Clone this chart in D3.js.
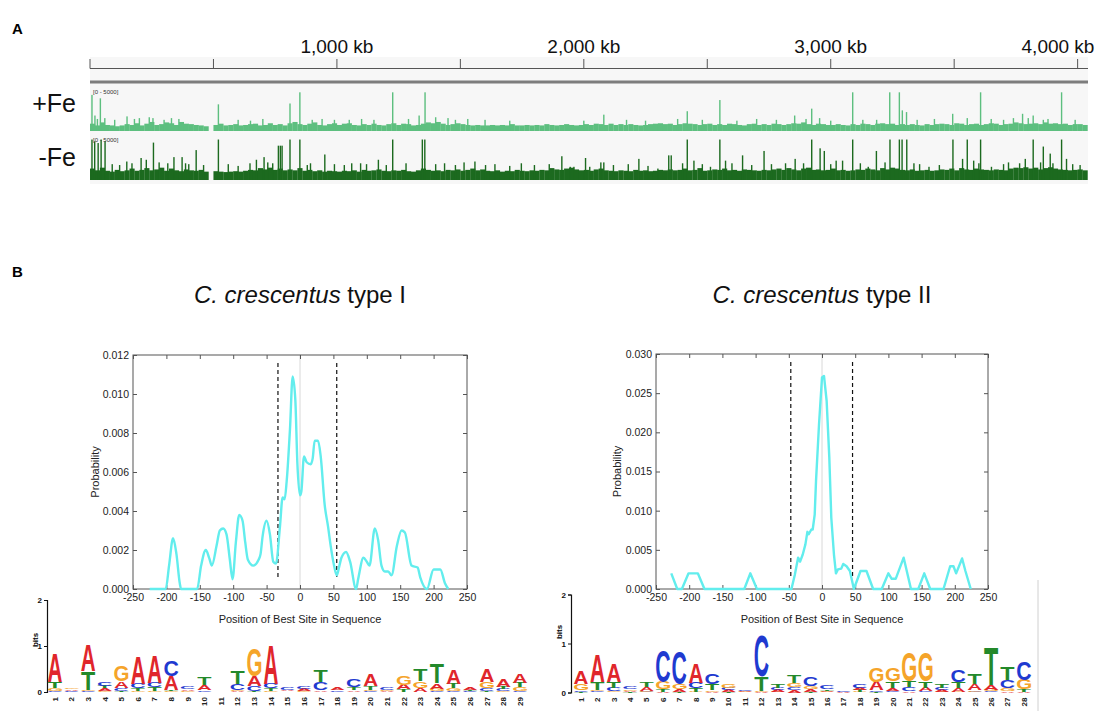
<!DOCTYPE html>
<html><head><meta charset="utf-8">
<script src="https://cdn.jsdelivr.net/npm/d3@7"></script>
<style>body{margin:0;background:#fff} svg{display:block;font-family:"Liberation Sans",Arial,sans-serif}</style>
</head><body><svg id="c" width="1104" height="711"></svg>
<script>
// ---------------- DATA ----------------
const genomeKb = 4042;
const binKb = 20;
const rulerTicks = [0,500,1000,1500,2000,2500,3000,3500,4000];
const rulerLabels = [1000,2000,3000,4000];
const trackNames = ["+Fe","-Fe"];
const trackRange = "[0 - 5000]";
const plusFeBins = [
850,650,1000,700,650,550,650,800,700,900,
650,850,1050,700,800,1000,900,700,1050,850,
800,700,650,550,null,700,850,650,700,800,
650,700,800,850,650,700,900,700,800,650,
900,1050,800,700,850,1000,700,650,800,900,
700,850,900,700,650,800,700,850,700,650,
800,900,700,850,800,650,700,850,1000,900,
1050,850,700,800,900,800,700,650,700,650,
650,700,650,700,650,800,650,650,700,650,
700,650,800,700,650,700,800,700,650,700,
800,700,850,800,700,850,700,800,700,800,
700,650,700,800,850,900,800,850,700,800,
900,850,800,700,800,850,700,800,700,850,
800,700,650,800,850,700,800,700,850,800,
700,800,900,850,1000,800,700,850,800,700,
700,800,700,650,800,700,850,800,700,850,
900,800,850,700,800,700,800,700,650,800,
700,800,850,800,700,900,850,700,800,850,
700,800,900,850,700,800,850,1000,900,800,
850,900,800,1000,850,900,800,850,700,800,
800,700];
const minusFeBins = [
1300,1100,1400,1050,950,1150,1000,1100,1300,1050,
1150,1350,1100,1200,1400,1050,1300,1100,1000,1200,
1100,1050,1150,950,null,1000,950,900,950,1000,
950,1050,1150,1100,1350,1200,1400,1150,1300,1100,
1200,1100,1350,1050,1150,1000,1100,950,1050,1000,
950,1050,1000,1100,950,1150,1050,1100,1200,1050,
1000,1100,1050,1150,1000,950,1100,1300,1150,1050,
1100,1000,1150,1100,1200,1050,1150,1300,1100,1200,
1050,1000,1100,950,1050,1000,1150,1050,1000,1100,
1050,1150,1100,1350,1200,1150,1300,1400,1200,1100,
1150,1050,1200,1300,1100,1050,1000,1100,1050,1000,
1150,1050,1100,1000,1050,1150,1100,1200,1100,1150,
1300,1100,1150,1350,1050,1100,1200,1150,1300,1100,
1150,1050,1200,1150,1100,1050,1150,1100,1200,1300,
1150,1350,1200,1100,1300,1400,1150,1200,1100,1150,
1300,1100,1150,1050,1100,1200,1150,1300,1200,1100,
1350,1200,1400,1300,1150,1100,1200,1050,1100,1150,
1050,1100,1200,1150,1300,1100,1350,1200,1150,1300,
1200,1150,1100,1200,1150,1100,1300,1400,1350,1450,
1300,1400,1200,1350,1450,1300,1200,1150,1100,1150,
1200,1100];
const plusFePeaks = [[8,4200],[20,1800],[30,1400],[42,3800],[60,1500],[100,1300],[150,1700],[180,1400],[200,1500],[240,1600],[255,1500],
[300,1300],[330,1500],[360,1400],[520,3100],[600,1300],[650,1200],[700,1400],[810,3200],[850,4500],[900,1300],[940,1400],[990,1300],
[1050,1300],[1100,1400],[1150,1300],[1226,4500],[1290,1400],[1333,1800],[1357,4500],[1400,1600],[1450,1500],[1480,1300],[1530,1400],
[1600,1300],[1700,1200],[2000,1200],[2081,1900],[2173,1300],[2250,1200],[2380,1400],[2419,2300],[2480,1300],[2551,3600],[2620,1200],
[2700,1400],[2780,1300],[2854,1800],[2900,1400],[2923,2600],[2955,1500],[3000,1200],[3089,4500],[3130,1300],
[3186,1300],[3239,4500],[3278,4500],[3290,2400],[3307,2200],[3350,1300],[3420,1400],[3494,2000],[3553,1500],[3607,4500],
[3650,1400],[3700,1300],[3740,1500],[3777,2000],[3800,1500],[3820,1800],[3861,1300],[3880,1400],[3935,4500],[3990,1300]];
const minusFePeaks = [[8,4600],[19,4400],[33,4200],[45,4600],[61,4400],[90,1800],[120,1700],[149,2100],[170,1900],[207,2500],[228,2300],
[257,4250],[280,2000],[315,1900],[340,2600],[373,2600],[387,1900],[400,1800],[430,3400],[460,1700],[520,4600],[560,1800],[600,1600],
[648,1900],[674,2300],[705,2600],[720,2000],[740,1900],[763,3900],[771,3900],[778,3900],[810,4600],[850,4600],[880,1700],[893,1900],
[951,2900],[990,1800],[1030,1700],[1060,1900],[1096,1900],[1120,1800],[1168,2300],[1200,1700],[1226,4600],[1280,1900],[1346,4600],
[1356,4600],[1400,1800],[1436,1900],[1480,1700],[1515,2000],[1559,2100],[1602,1700],[1640,1800],[1700,1600],[1747,1900],[1800,1700],
[1860,1800],[1911,2700],[1945,1500],[1960,1500],[2007,2500],[2024,1500],[2069,2000],[2081,2000],[2120,1700],[2180,1800],
[2223,2400],[2260,1600],[2300,1300],[2344,2800],[2354,2800],[2400,1900],[2419,4600],[2446,2200],[2480,1800],[2513,1500],[2551,4600],
[2574,2200],[2600,1900],[2643,2800],[2680,1700],[2730,3300],[2760,1800],[2817,1900],[2856,2400],[2890,1900],[2923,4600],[2957,3600],
[2974,3300],[3000,1800],[3022,2200],[3048,2200],[3089,4600],[3120,1900],[3152,1500],[3185,3300],[3220,2000],[3240,4600],[3278,4600],
[3289,4600],[3308,4600],[3337,1900],[3360,1800],[3398,1500],[3440,1700],[3495,4600],[3534,2400],[3553,4600],[3579,2200],[3600,1900],
[3607,4600],[3651,1500],[3700,1800],[3720,2000],[3765,1900],[3788,2400],[3820,4600],[3850,2000],[3861,3800],[3889,3000],[3900,1900],
[3935,4600],[3955,2400],[3980,1800],[4010,1700]];

const chartTitles = ["type I","type II"];
const speciesName = "C. crescentus";
const posTicks = [-250,-200,-150,-100,-50,0,50,100,150,200,250];
const type1YTicks = [0,0.002,0.004,0.006,0.008,0.010,0.012];
const type2YTicks = [0,0.005,0.010,0.015,0.020,0.025,0.030];
const type1Pos = [-225,-201,-196,-190,-185,-180,-178,-154,-148,-141,-136,-132,-125,-120,-115,-110,-105,-101,-96,-91,-86,-82,-78,-70,-62,-59,-56,-50,-45,-40,-36,-30,-26,-23,-20,-15,-11,-7,-4,0,2,6,10,16,19,22,27,31,37,42,46,51,55,59,62,69,75,84,87,95,100,104,112,117,122,127,132,137,145,152,157,167,176,180,190,200,210,217,222];
const type1Prob = [0,0,0.0012,0.0026,0.0018,0.0003,0,0,0.0012,0.002,0.0016,0.0012,0.0022,0.003,0.0031,0.0028,0.0015,0.0005,0.0024,0.0038,0.0035,0.0024,0.0015,0.0012,0.0015,0.0018,0.0027,0.0035,0.0028,0.0014,0.0013,0.0032,0.0047,0.0046,0.0055,0.0082,0.0109,0.0097,0.0065,0.0048,0.005,0.0068,0.0065,0.0064,0.0067,0.0076,0.0076,0.0068,0.0043,0.0032,0.0022,0.0012,0.0007,0.0012,0.0016,0.0019,0.0014,0,0.0005,0.0016,0.0014,0.0012,0.0031,0.0025,0.0012,0.0009,0.0009,0.0007,0.0022,0.003,0.0029,0.0012,0.0011,0.0006,0,0.001,0.001,0.0003,0];
const type2Pos = [-227,-218,-211,-201,-187,-177,-117,-108,-98,-46,-41,-36,-33,-29,-25,-22,-20,-16,-14,-11,-9,-4.5,0,3,7,11,14,18,21,24,29,32,37,42,48,58,67,77,90,100,105,111,123,134,145,154,163,183,193,198,202,211,216,224];
const type2Prob = [0.002,0,0,0.002,0.002,0,0,0.002,0,0,0.0018,0.004,0.0035,0.0044,0.0057,0.0073,0.007,0.0076,0.0076,0.0095,0.0138,0.021,0.027,0.0272,0.024,0.0168,0.0091,0.0044,0.002,0.0025,0.0026,0.0032,0.0029,0.0023,0,0.0023,0.0023,0,0,0.002,0.0013,0.0013,0.004,0,0,0.002,0,0,0.0029,0.0029,0.002,0.0039,0.0023,0];
const type1Window = [-33,55];
const type2Window = [-47,46];

const logoLetters = ["A","C","G","T"];
const logo1A = [.62,.03,.55,.05,.15,.6,.58,.3,.03,.12,.01,.02,.22,.84,.02,.04,.03,.05,.03,.26,.02,.1,.08,.12,.3,.05,.28,.16,.2];
const logo1C = [.02,.02,.02,.07,.05,.1,.1,.34,.05,.03,.01,.13,.1,.1,.04,.06,.17,.03,.16,.02,.04,.01,.01,.02,.03,.02,.06,.04,.02];
const logo1G = [.06,.03,.03,.03,.33,.03,.03,.02,.02,.01,0,.03,.6,.02,.01,.02,.01,.01,.01,.03,.02,.2,.15,.05,.05,.01,.13,.02,.08];
const logo1T = [.13,.01,.4,.06,.03,.05,.07,.02,.01,.17,.01,.27,.02,.06,.01,.01,.25,0,.06,.08,.01,.05,.25,.43,.1,.02,.02,.05,.1];
const logo2A = [.26,.55,.38,.03,.07,.01,.05,.4,.02,.04,.02,.02,.04,.05,.05,.03,.02,.05,.17,.06,.03,.07,.04,.07,.13,.1,.03,.01];
const logo2C = [.03,.03,.07,.04,.01,.63,.66,.12,.21,.04,.02,.82,.05,.06,.18,.08,.03,.08,.03,.03,.08,.03,.04,.24,.02,.02,.17,.37];
const logo2G = [.12,.03,.02,.03,.03,.15,.1,.01,.03,.07,.01,.02,.01,.08,.05,.01,0,.01,.3,.27,.6,.58,.01,.02,.03,.04,.05,.2];
const logo2T = [.02,.15,.12,.01,.1,.05,.02,.07,.12,.01,0,.28,.08,.16,.02,.03,0,.04,.02,.14,.12,.12,.08,.12,.2,.77,.25,.05];
const bitsTicks = [0,1,2];

// ---------------- DRAW ----------------
const svg = d3.select("#c");
const letterColor = {A:"#e0262b", C:"#1f3ad0", G:"#f5a42a", T:"#23892a"};

svg.append("text").attr("x",12).attr("y",34).attr("font-size",15).attr("font-weight","bold").text("A");
svg.append("text").attr("x",12).attr("y",277).attr("font-size",15).attr("font-weight","bold").text("B");

// ---- Panel A : genome tracks ----
const xKb = d3.scaleLinear().domain([0, genomeKb]).range([90, 1088]);
svg.append("rect").attr("x",90).attr("y",57).attr("width",998).attr("height",127).attr("fill","#f7f7f7");
svg.append("line").attr("x1",90).attr("x2",1088).attr("y1",68.5).attr("y2",68.5).attr("stroke","#555").attr("stroke-width",1.2);
svg.selectAll(".rt").data(rulerTicks).enter().append("line")
  .attr("x1",d=>xKb(d)).attr("x2",d=>xKb(d)).attr("y1",59).attr("y2",68.5).attr("stroke","#555").attr("stroke-width",1);
svg.selectAll(".rl").data(rulerLabels).enter().append("text")
  .attr("x",d=>Math.min(xKb(d), 1098 - 40)).attr("y",53).attr("text-anchor","middle")
  .attr("font-size",19).attr("fill","#111").text(d=>d3.format(",")(d)+" kb");
svg.append("rect").attr("x",90).attr("y",80.5).attr("width",998).attr("height",3).attr("fill","#7d7d7d");

const tracks = [
  {name:trackNames[0], bins:plusFeBins, peaks:plusFePeaks, y0:131, y1:88, color:"#5dbf7f", labelY:112},
  {name:trackNames[1], bins:minusFeBins, peaks:minusFePeaks, y0:180, y1:136, color:"#1c6a1f", labelY:166}
];
tracks.forEach(t => {
  const y = d3.scaleLinear().domain([0,5000]).range([t.y0, t.y1]).clamp(true);
  const g = svg.append("g");
  g.selectAll("rect.b").data(t.bins.map((v,i)=>({v, kb:i*binKb})).filter(d=>d.v!=null)).enter().append("rect")
    .attr("x",d=>xKb(d.kb)).attr("y",d=>y(d.v))
    .attr("height",d=>t.y0-y(d.v)).attr("fill",t.color)
    .attr("width",d=>Math.max(0, Math.min(xKb(d.kb+binKb), xKb(genomeKb)) - xKb(d.kb) + 0.2));
  g.selectAll("rect.p").data(t.peaks).enter().append("rect")
    .attr("x",d=>xKb(d[0])-0.7).attr("width",1.4).attr("y",d=>y(d[1])).attr("height",d=>t.y0-y(d[1])).attr("fill",t.color);
  svg.append("text").attr("x",93).attr("y",t.y1+6).attr("font-size",6).attr("fill","#333").text(trackRange);
  svg.append("text").attr("x",76).attr("y",t.labelY).attr("text-anchor","end").attr("font-size",25).attr("fill","#111").text(t.name);
});

// ---- Panel B : probability charts ----
function probChart(cfg){
  const x = d3.scaleLinear().domain([-250,250]).range(cfg.xr);
  const y = d3.scaleLinear().domain([0,cfg.ymax]).range(cfg.yr);
  const g = svg.append("g");
  const t = svg.append("text").attr("x",(cfg.xr[0]+cfg.xr[1])/2).attr("y",303).attr("text-anchor","middle").attr("font-size",24).attr("fill","#111");
  t.append("tspan").attr("font-style","italic").text(speciesName);
  t.append("tspan").text(" " + cfg.title);
  g.append("line").attr("x1",x(0)).attr("x2",x(0)).attr("y1",cfg.yr[1]).attr("y2",cfg.yr[0]).attr("stroke","#d8d8d8").attr("stroke-width",1);
  const fmtX = d => String(d);
  const ax = (a, tr) => { const gg = g.append("g").attr("transform",tr).call(a); gg.select(".domain").remove();
     gg.selectAll("line").attr("stroke","#555"); gg.selectAll("text").attr("font-size",10.5).attr("fill","#222").attr("font-family","Liberation Sans, Arial, sans-serif"); return gg; };
  ax(d3.axisBottom(x).tickValues(posTicks).tickSize(-4).tickPadding(5).tickFormat(fmtX), `translate(0,${cfg.yr[0]})`);
  ax(d3.axisTop(x).tickValues(posTicks).tickSize(-4).tickFormat(""), `translate(0,${cfg.yr[1]})`);
  ax(d3.axisLeft(y).tickValues(cfg.yTicks).tickSize(-4).tickPadding(4).tickFormat(d3.format(".3f")), `translate(${cfg.xr[0]},0)`);
  ax(d3.axisRight(y).tickValues(cfg.yTicks).tickSize(-4).tickFormat(""), `translate(${cfg.xr[1]},0)`);
  g.append("rect").attr("x",cfg.xr[0]).attr("y",cfg.yr[1]).attr("width",cfg.xr[1]-cfg.xr[0]).attr("height",cfg.yr[0]-cfg.yr[1])
    .attr("fill","none").attr("stroke","#555").attr("stroke-width",1);
  g.selectAll(".dw").data(cfg.win).enter().append("line")
    .attr("x1",d=>x(d)).attr("x2",d=>x(d)).attr("y1",cfg.yr[1]+8).attr("y2",cfg.yr[0]-10)
    .attr("stroke","#111").attr("stroke-width",1.2).attr("stroke-dasharray","4,3");
  const pts = cfg.pos.map((p,i)=>[p, cfg.prob[i]]);
  g.append("path").datum(pts).attr("fill","none").attr("stroke","#62eded").attr("stroke-width",2.4)
    .attr("stroke-linejoin","round")
    .attr("d", d3.line().x(d=>x(d[0])).y(d=>y(d[1])).curve(cfg.curve)(pts));
  svg.append("text").attr("x",(cfg.xr[0]+cfg.xr[1])/2).attr("y",623).attr("text-anchor","middle").attr("font-size",11).attr("fill","#222")
    .text("Position of Best Site in Sequence");
  svg.append("text").attr("transform",`translate(${cfg.ylabX},${(cfg.yr[0]+cfg.yr[1])/2}) rotate(-90)`).attr("text-anchor","middle")
    .attr("font-size",11).attr("fill","#222").text("Probability");
}
probChart({xr:[133,467], yr:[589,355], ymax:0.012, yTicks:type1YTicks, pos:type1Pos, prob:type1Prob, win:type1Window, title:chartTitles[0], ylabX:99, curve:d3.curveMonotoneX});
probChart({xr:[656,988], yr:[589,354], ymax:0.030, yTicks:type2YTicks, pos:type2Pos, prob:type2Prob, win:type2Window, title:chartTitles[1], ylabX:621, curve:d3.curveLinear});

// ---- Sequence logos ----
const mctx = document.createElement("canvas").getContext("2d");
mctx.font = "bold 100px 'Liberation Sans'";
const gbox = {};
logoLetters.forEach(ch => { const m = mctx.measureText(ch);
  gbox[ch] = {xmin:-m.actualBoundingBoxLeft, xmax:m.actualBoundingBoxRight, asc:m.actualBoundingBoxAscent, desc:m.actualBoundingBoxDescent}; });

function drawLogo(cfg){
  const n = cfg.A.length;
  const x = d3.scaleLinear().domain([1,n]).range([cfg.x1, cfg.xn]);
  const y = d3.scaleLinear().domain([0,2]).range([cfg.y0, cfg.y0 - 2*cfg.ppb]);
  const g = svg.append("g");
  const ya = g.append("g").attr("transform",`translate(${cfg.axisX},0)`).call(d3.axisLeft(y).tickValues(bitsTicks).tickSize(3).tickPadding(2).tickFormat(d=>String(d)));
  ya.select(".domain").attr("stroke","#111").attr("stroke-width",1.2);
  ya.selectAll("line").attr("stroke","#111");
  ya.selectAll("text").attr("font-size",8).attr("font-weight","bold").attr("fill","#111").attr("font-family","Liberation Sans, Arial, sans-serif");
  svg.append("text").attr("transform",`translate(${cfg.axisX-9},${cfg.bitsY}) rotate(-90)`).attr("text-anchor","middle")
    .attr("font-size",8).attr("font-weight","bold").text("bits");
  const w = 14;
  for (let i=0;i<n;i++){
    const stack = logoLetters.map(L=>({L, h:cfg[L][i]})).filter(d=>d.h>0).sort((a,b)=>a.h-b.h);
    let base = 0;
    const cx = x(i+1);
    stack.forEach(d => {
      const yb = y(base), yt = y(base + d.h);
      const ph = yb - yt;
      base += d.h;
      if (ph < 0.4) return;
      const b = gbox[d.L];
      const inkW = b.xmax - b.xmin, inkH = b.asc + b.desc;
      g.append("text").attr("x",-b.xmin).attr("y",-b.desc).attr("font-size",100).attr("font-weight","bold")
        .attr("font-family","Liberation Sans").attr("fill",letterColor[d.L])
        .attr("transform",`translate(${cx - w/2},${yb}) scale(${w/inkW},${ph/inkH})`).text(d.L);
    });
    svg.append("text").attr("transform",`translate(${cx+2.8},${cfg.y0+5}) rotate(-90)`).attr("text-anchor","end")
      .attr("font-size",8).attr("font-weight","bold").attr("fill","#222").text(String(i+1));
  }
}
drawLogo({A:logo1A,C:logo1C,G:logo1G,T:logo1T, x1:55, xn:520, y0:692, ppb:46, axisX:47, bitsY:640});
drawLogo({A:logo2A,C:logo2C,G:logo2G,T:logo2T, x1:581, xn:1024, y0:692.5, ppb:49, axisX:571, bitsY:632});
svg.append("line").attr("x1",1038).attr("x2",1038).attr("y1",580).attr("y2",711).attr("stroke","#d0d0d0").attr("stroke-width",1);
</script></body></html>
